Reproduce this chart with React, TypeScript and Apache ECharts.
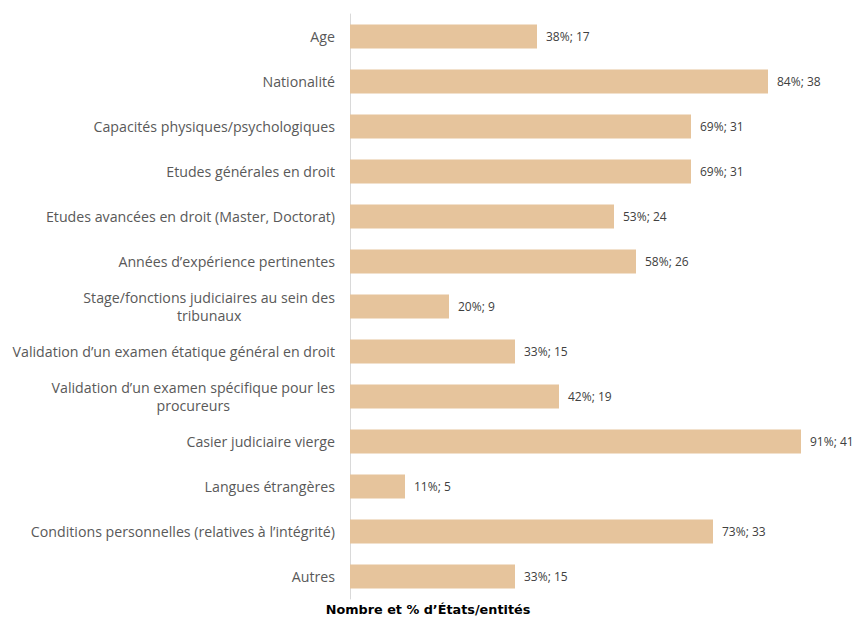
import React, { useEffect, useRef } from "react";
import * as echarts from "echarts";

const categories: string[] = [
  "Age",
  "Nationalité",
  "Capacités physiques/psychologiques",
  "Etudes générales en droit",
  "Etudes avancées en droit (Master, Doctorat)",
  "Années d’expérience pertinentes",
  "Stage/fonctions judiciaires au sein des\ntribunaux",
  "Validation d’un examen étatique général en droit",
  "Validation d’un examen spécifique pour les\nprocureurs",
  "Casier judiciaire vierge",
  "Langues étrangères",
  "Conditions personnelles (relatives à l’intégrité)",
  "Autres",
];

const counts: number[] = [17, 38, 31, 31, 24, 26, 9, 15, 19, 41, 5, 33, 15];
const percents: number[] = [38, 84, 69, 69, 53, 58, 20, 33, 42, 91, 11, 73, 33];

const axisTitle = "Nombre et % d’États/entités";

export default function App() {
  const ref = useRef<HTMLDivElement>(null);

  useEffect(() => {
    if (!ref.current) return;
    const chart = echarts.init(ref.current, undefined, { renderer: "svg" });
    chart.setOption({
      animation: false,
      backgroundColor: "#ffffff",
      grid: { left: 350, top: 14, width: 495, height: 585, containLabel: false },
      xAxis: {
        type: "value",
        min: 0,
        max: 45,
        show: false,
      },
      yAxis: {
        type: "category",
        data: categories,
        inverse: true,
        axisLine: { show: true, lineStyle: { color: "#D9D9D9", width: 1 } },
        axisTick: { show: false },
        axisLabel: {
          margin: 15,
          color: "#595959",
          fontFamily: "Open Sans",
          fontSize: 14.2,
          lineHeight: 18,
          formatter: (v: string) =>
            v
              .split("\n")
              .map((l) => `{c|${l}}`)
              .join("\n"),
          rich: {
            c: {
              align: "center",
              color: "#595959",
              fontFamily: "Open Sans",
              fontSize: 14.2,
              lineHeight: 18,
            },
          },
        },
      },
      graphic: [
        {
          type: "text",
          left: "center",
          top: 603,
          style: {
            text: axisTitle,
            fill: "#000000",
            font: "bold 12.8px 'DejaVu Sans'",
          },
        },
      ],
      series: [
        {
          type: "bar",
          data: counts,
          barWidth: 24,
          itemStyle: { color: "#E6C49C" },
          label: {
            show: true,
            position: "right",
            distance: 9,
            color: "#404040",
            fontFamily: "Open Sans",
            fontSize: 12,
            formatter: (p: any) => `${percents[p.dataIndex]}%; ${counts[p.dataIndex]}`,
          },
        },
      ],
    });
    return () => chart.dispose();
  }, []);

  return (
    <div
      ref={ref}
      style={{ position: "fixed", left: 0, top: 0, width: 856, height: 619 }}
    />
  );
}
